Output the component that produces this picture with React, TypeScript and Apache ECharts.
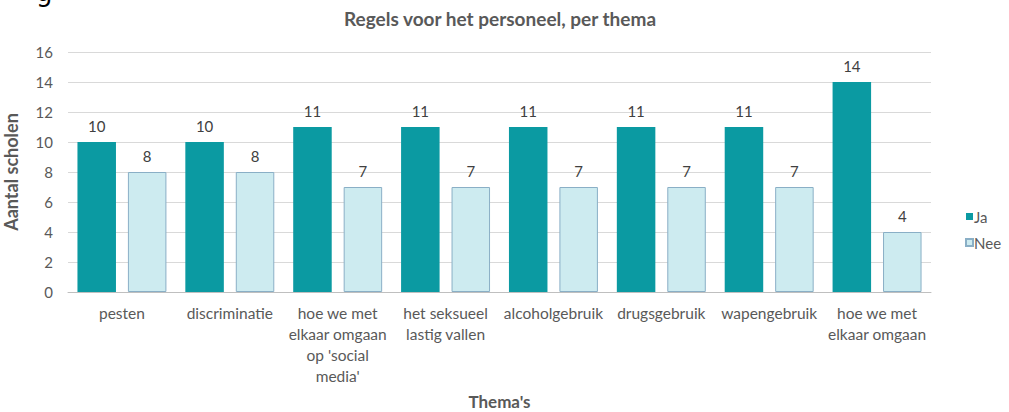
import React, { useEffect, useRef } from "react";
import * as echarts from "echarts";

const categories = [
  "pesten",
  "discriminatie",
  "hoe we met\nelkaar omgaan\nop 'social\nmedia'",
  "het seksueel\nlastig vallen",
  "alcoholgebruik",
  "drugsgebruik",
  "wapengebruik",
  "hoe we met\nelkaar omgaan",
];
const jaValues = [10, 10, 11, 11, 11, 11, 11, 14];
const neeValues = [8, 8, 7, 7, 7, 7, 7, 4];
const seriesNames = ["Ja", "Nee"];
const chartTitle = "Regels voor het personeel, per thema";
const yAxisTitle = "Aantal scholen";
const xAxisTitle = "Thema's";

const FONT = "Lato, 'Open Sans', sans-serif";

export default function App() {
  const ref = useRef<HTMLDivElement>(null);
  useEffect(() => {
    if (!ref.current) return;
    const chart = echarts.init(ref.current, null, { renderer: "svg" });
    chart.setOption({
      animation: false,
      backgroundColor: "#ffffff",
      textStyle: { fontFamily: FONT },
      title: {
        text: chartTitle,
        left: 495,
        top: 4,
        textAlign: "center",
        textStyle: { fontSize: 19, fontWeight: "bold", color: "#595959", fontFamily: FONT },
      },
      graphic: [
        {
          type: "text",
          left: 36,
          top: -21,
          style: { text: "g", fontSize: 26, fill: "#000000", fontFamily: "'DejaVu Sans', sans-serif" },
        },
      ],
      legend: {
        orient: "vertical",
        left: 960,
        top: 204,
        itemGap: 11,
        itemWidth: 7,
        itemHeight: 7,
        icon: "rect",
        textStyle: { fontSize: 15, color: "#595959", fontFamily: FONT, padding: [0, 0, 0, -4] },
        data: seriesNames,
      },
      grid: { left: 68, right: 78, top: 52, height: 240, containLabel: false, outerBoundsMode: "none" },
      xAxis: {
        type: "category",
        data: categories,
        name: xAxisTitle,
        nameLocation: "middle",
        nameGap: 101,
        nameTextStyle: { fontSize: 17, fontWeight: "bold", color: "#595959", fontFamily: FONT },
        axisLine: { lineStyle: { color: "#BFBFBF" } },
        axisTick: { show: false },
        axisLabel: {
          interval: 0,
          fontSize: 15.5,
          color: "#595959",
          lineHeight: 21,
          margin: 10,
          verticalAlign: "top",
          fontFamily: FONT,
        },
      },
      yAxis: {
        type: "value",
        min: 0,
        max: 16,
        interval: 2,
        name: yAxisTitle,
        nameLocation: "middle",
        nameGap: 48,
        nameTextStyle: { fontSize: 18, fontWeight: "bold", color: "#595959", fontFamily: FONT },
        axisLine: { show: false },
        axisTick: { show: false },
        axisLabel: { fontSize: 15, color: "#595959", margin: 15, fontFamily: FONT },
        splitLine: { lineStyle: { color: "#D9D9D9" } },
      },
      series: [
        {
          name: seriesNames[0],
          type: "bar",
          data: jaValues,
          barWidth: "35.7%",
          barGap: "31%",
          itemStyle: { color: "#0B9AA2" },
          label: { show: true, position: "top", distance: 9, fontSize: 15, color: "#404040", fontFamily: FONT },
        },
        {
          name: seriesNames[1],
          type: "bar",
          data: neeValues,
          barWidth: "35.7%",
          itemStyle: { color: "#CDEBF0", borderColor: "#8AAFC6", borderWidth: 1 },
          label: { show: true, position: "top", distance: 9, fontSize: 15, color: "#404040", fontFamily: FONT },
        },
      ],
    });
    return () => chart.dispose();
  }, []);
  return (
    <div
      ref={ref}
      style={{ position: "fixed", left: 0, top: 0, width: 1009, height: 412 }}
    />
  );
}
